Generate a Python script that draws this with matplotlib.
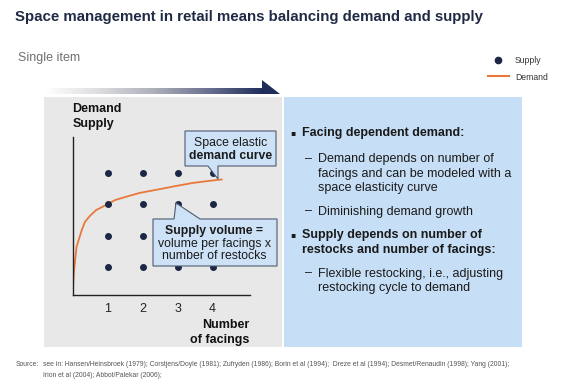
import numpy as np
import matplotlib
matplotlib.use("Agg")
import matplotlib.pyplot as plt
from matplotlib.patches import Rectangle, Polygon
from matplotlib.colors import LinearSegmentedColormap

plt.rcParams['font.family'] = ['Liberation Sans', 'DejaVu Sans']

# data
facings = [1, 2, 3, 4]
restocks = [1, 2, 3, 4]
demand_x = [0.0, 0.01, 0.04, 0.11, 0.17, 0.26, 0.35, 0.49, 0.67, 0.95, 1.21,
            1.54, 1.92, 2.49, 2.95, 3.44, 3.87, 4.26]
demand_y = [0.16, 0.42, 0.90, 1.64, 1.86, 2.18, 2.44, 2.63, 2.82, 2.98, 3.14,
            3.25, 3.37, 3.49, 3.59, 3.69, 3.75, 3.80]
tick_labels = ['1', '2', '3', '4']

navy = '#1b2744'
orange = '#e8783c'

fig = plt.figure(figsize=(5.88, 3.92), dpi=100)

# background layer in pixel coordinates
bg = fig.add_axes([0, 0, 1, 1])
bg.set_xlim(0, 588)
bg.set_ylim(392, 0)
bg.axis('off')

bg.text(15, 17, 'Space management in retail means balancing demand and supply',
        fontsize=10.8, fontweight='bold', color='#1f2a44', va='center')
bg.text(18, 58, 'Single item', fontsize=9, color='#707070', va='center')

# legend
bg.plot([498], [60], 'o', color=navy, ms=4.5)
bg.text(515, 60.5, 'Supply', fontsize=6.2, color='#333333', va='center')
bg.plot([488, 509], [76, 76], color=orange, lw=1.5)
bg.text(515, 77, 'Demand', fontsize=6.2, color='#333333', va='center')

# panels
bg.add_patch(Rectangle((44, 96.5), 238, 250.5, color='#e8e8e8', lw=0))
bg.add_patch(Rectangle((284, 96.5), 238, 250.5, color='#c7dff6', lw=0))

# gradient arrow
cmap = LinearSegmentedColormap.from_list(
    'arr', ['#ffffff', '#dcdcdf', '#adb0ba', '#6a7090', '#1f2d5a'])
bg.imshow(np.linspace(0, 1, 256)[None, :], cmap=cmap, aspect='auto',
          extent=(45, 263, 94, 88))
bg.add_patch(Polygon([(262, 80), (280, 94), (262, 94)], closed=True,
                     color='#1f2d5a', lw=0))

# right panel text
body = dict(fontsize=9, color='#1a1a1a', va='center')
bul = dict(fontsize=5.5, color='#1a1a1a', va='center', family='DejaVu Sans')
bg.text(290.5, 133, '▪', **bul)
bg.text(302.5, 133, 'Facing dependent demand:', fontweight='bold', **body)
bg.text(305, 159, '–', **body)
bg.text(318.5, 159, 'Demand depends on number of', **body)
bg.text(318.5, 173.5, 'facings and can be modeled with a', **body)
bg.text(318.5, 188, 'space elasticity curve', **body)
bg.text(305, 211.5, '–', **body)
bg.text(318.5, 211.5, 'Diminishing demand growth', **body)
bg.text(290.5, 235, '▪', **bul)
bg.text(302.5, 235, 'Supply depends on number of', fontweight='bold', **body)
bg.text(302.5, 250, 'restocks and number of facings:', fontweight='bold', **body)
bg.text(305, 273.5, '–', **body)
bg.text(318.5, 273.5, 'Flexible restocking, i.e., adjusting', **body)
bg.text(318.5, 288, 'restocking cycle to demand', **body)

# axis captions
cap = dict(fontsize=9, fontweight='bold', color='#111111', va='center')
bg.text(72.5, 109, 'Demand', **cap)
bg.text(72.5, 123.5, 'Supply', **cap)
bg.text(249, 325.5, 'Number', ha='right', **cap)
bg.text(249, 339.5, 'of facings', ha='right', **cap)

# source
src = dict(fontsize=4.9, color='#555555', va='center')
bg.text(16, 365, 'Source:', **src)
bg.text(43, 365, 'see in: Hansen/Heinsbroek (1979); Corstjens/Doyle (1981); Zufryden (1986); '
        'Borin et al (1994);  Dreze et al (1994); Desmet/Renaudin (1998); Yang (2001);', **src)
bg.text(43, 375.5, 'Irion et al (2004); Abbot/Palekar (2006);', **src)

# chart
ax = fig.add_axes([72.7 / 588, 1 - 295 / 392, (250 - 72.7) / 588, (295 - 137) / 392])
ax.patch.set_alpha(0)
ax.set_xlim(0, 5.07)
ax.set_ylim(0.1, 5.16)
for s in ['top', 'right']:
    ax.spines[s].set_visible(False)
for s in ['left', 'bottom']:
    ax.spines[s].set_color('#222222')
    ax.spines[s].set_linewidth(1.0)
ax.set_xticks(facings)
ax.set_xticklabels(tick_labels, fontsize=9, color='#222222')
ax.tick_params(axis='x', length=0, pad=5.5)
ax.set_yticks([])

fx, fy = np.meshgrid(facings, restocks)
ax.scatter(fx.ravel(), fy.ravel(), s=16, color=navy, zorder=3)
ax.plot(demand_x, demand_y, color=orange, lw=1.3, zorder=2)

# callouts on top
top = fig.add_axes([0, 0, 1, 1])
top.set_xlim(0, 588)
top.set_ylim(392, 0)
top.axis('off')
top.patch.set_alpha(0)

box_kw = dict(closed=True, facecolor='#cde2f6', edgecolor='#4e5b70', lw=0.8)
top.add_patch(Polygon([(185, 131), (276, 131), (276, 166), (218, 166), (218, 179),
                       (208, 166), (185, 166)], **box_kw))
top.text(230.5, 143, 'Space elastic', fontsize=8.8, color='#1a1a1a', ha='center', va='center')
top.text(230.5, 156, 'demand curve', fontsize=8.8, fontweight='bold', color='#1a1a1a',
         ha='center', va='center')

top.add_patch(Polygon([(153, 219), (174, 219), (176, 203), (200, 219), (277, 219),
                       (277, 266), (153, 266)], **box_kw))
top.text(214, 231, 'Supply volume =', fontsize=8.8, fontweight='bold', color='#1a1a1a',
         ha='center', va='center')
top.text(214, 243.5, 'volume per facings x', fontsize=8.8, color='#1a1a1a',
         ha='center', va='center')
top.text(214, 256, 'number of restocks', fontsize=8.8, color='#1a1a1a',
         ha='center', va='center')

fig.savefig('out.png', dpi=100)
